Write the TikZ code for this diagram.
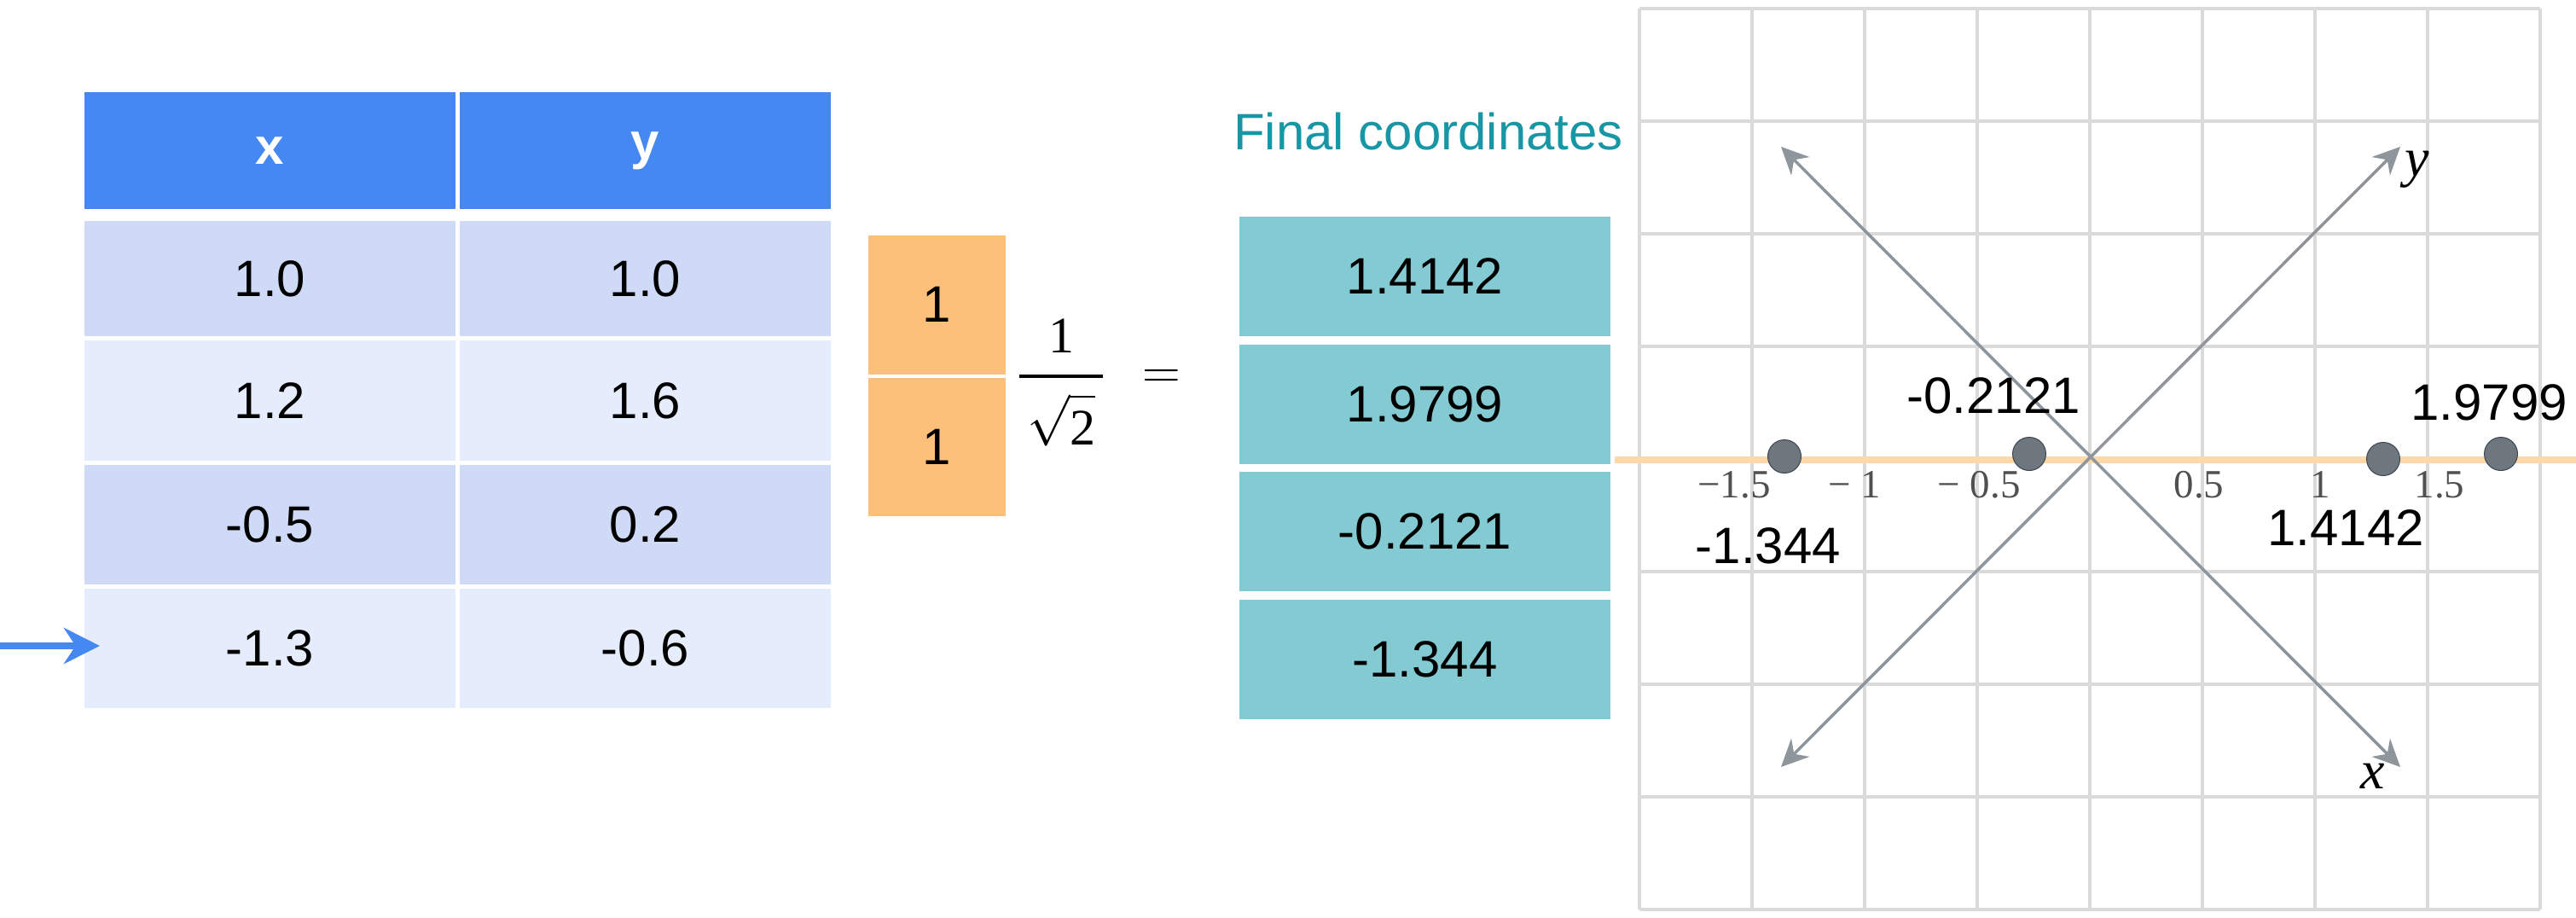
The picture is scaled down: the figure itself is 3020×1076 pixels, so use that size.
\RequirePackage{fix-cm}
\documentclass[tikz,border=0pt]{standalone}
\usepackage[no-math]{fontspec}
\setmainfont{Liberation Sans}
\newfontfamily\serifface{Liberation Serif}
\usetikzlibrary{arrows.meta}
\definecolor{hdr}{HTML}{4688F1}
\definecolor{rowa}{HTML}{CEDAF6}
\definecolor{rowb}{HTML}{E5ECFB}
\definecolor{orng}{HTML}{FDC07A}
\definecolor{tealbox}{HTML}{84CAD2}
\definecolor{tealtxt}{HTML}{1797A6}
\definecolor{gridc}{HTML}{DADADA}
\definecolor{axisc}{HTML}{8E959B}
\definecolor{dotc}{HTML}{6E767E}
\definecolor{dotline}{HTML}{3C4650}
\definecolor{lineo}{HTML}{FDD8A8}
\definecolor{tickc}{HTML}{505050}
\newcommand{\bigtxt}{\fontsize{60}{72}\selectfont}
\newcommand{\ticktxt}{\fontsize{47}{56}\selectfont\serifface}
\begin{document}
\begin{tikzpicture}[x=1pt,y=-1pt,
  cellbox/.style={rectangle,inner sep=0pt,minimum width=435pt,font=\bigtxt},
  hdrcell/.style={cellbox,fill=hdr,text=white,minimum height=137pt,font=\bigtxt\bfseries},
  rowacell/.style={cellbox,fill=rowa},
  rowbcell/.style={cellbox,fill=rowb},
  orbox/.style={rectangle,inner sep=0pt,fill=orng,minimum width=161pt,minimum height=163pt,font=\bigtxt},
  tlbox/.style={rectangle,inner sep=0pt,fill=tealbox,minimum width=435pt,minimum height=140pt,font=\bigtxt},
  gridline/.style={draw=gridc,line width=3.5pt},
  axisline/.style={draw=axisc,line width=3.5pt,{Stealth[length=32pt,width=30pt]}-{Stealth[length=32pt,width=30pt]}},
  ptdot/.style={circle,fill=dotc,draw=dotline,line width=1pt,minimum size=39pt,inner sep=0pt},
  ptlabel/.style={inner sep=0pt,font=\bigtxt},
  ticklabel/.style={inner sep=0pt,text=tickc,font=\ticktxt},
  axlabel/.style={inner sep=0pt,font=\fontsize{64}{76}\selectfont\serifface\itshape},
  mathtxt/.style={inner sep=0pt,font=\fontsize{60}{72}\selectfont\serifface}
]
\useasboundingbox[fill=white] (0,0) rectangle (3020,1076);

% ---- table ----
\node[hdrcell] (hx) at (316.5,176.5) {x};
\node[hdrcell] (hy) at (756.5,176.5) {y};
\node[rowacell,minimum height=135pt] (r1x) at (316.5,326.5) {1.0};
\node[rowacell,minimum height=135pt] (r1y) at (756.5,326.5) {1.0};
\node[rowbcell,minimum height=141pt] (r2x) at (316.5,469.5) {1.2};
\node[rowbcell,minimum height=141pt] (r2y) at (756.5,469.5) {1.6};
\node[rowacell,minimum height=140pt] (r3x) at (316.5,615) {-0.5};
\node[rowacell,minimum height=140pt] (r3y) at (756.5,615) {0.2};
\node[rowbcell,minimum height=140pt] (r4x) at (316.5,760) {-1.3};
\node[rowbcell,minimum height=140pt] (r4y) at (756.5,760) {-0.6};

\coordinate (arrS) at (0,757);
\coordinate (arrE) at (117,757);
\draw[draw=hdr,line width=8pt,-{Stealth[length=42pt,width=42pt]}] (arrS) -- (arrE);

% ---- orange vector ----
\node[orbox] (o1) at (1098,357) {1};
\node[orbox,minimum height=162pt] (o2) at (1098,524) {1};
\node[mathtxt,anchor=base] (num) at (1244,413) {1};
\coordinate (barL) at (1195,441);
\coordinate (barR) at (1293,441);
\draw[line width=4.5pt] (barL) -- (barR);
\node[mathtxt,anchor=base] (den) at (1244,521) {$\sqrt{\rule{0pt}{52pt}\mbox{\serifface 2}}$};
\node[inner sep=0pt,anchor=base,font=\fontsize{62}{74}\selectfont] (eq) at (1362,455) {$=$};

% ---- final coordinates ----
\node[inner sep=0pt,anchor=base west,text=tealtxt,font=\bigtxt] (fc) at (1446,175) {Final coordinates};
\node[tlbox] (t1) at (1670.5,324) {1.4142};
\node[tlbox] (t2) at (1670.5,474) {1.9799};
\node[tlbox] (t3) at (1670.5,623) {-0.2121};
\node[tlbox] (t4) at (1670.5,773) {-1.344};

% ---- grid ----
\foreach \i in {0,...,8} {
  \draw[gridline] (1922+132*\i,10) -- (1922+132*\i,1066);
  \draw[gridline] (1922,10+132*\i) -- (2978,10+132*\i);
}

% ---- projection line ----
\coordinate (lineS) at (1893,539);
\coordinate (lineE) at (3020,539);
\draw[draw=lineo,line width=8.5pt] (lineS) -- (lineE);

% ---- rotated axes ----
\coordinate (O) at (2450,536);
\coordinate (xa1) at (2088,172);
\coordinate (xa2) at (2814,899);
\coordinate (ya1) at (2088,899);
\coordinate (ya2) at (2814,172);
\draw[axisline] (xa1) -- (xa2);
\draw[axisline] (ya1) -- (ya2);
\node[axlabel] (ylab) at (2834,199) {y};
\node[axlabel] (xlab) at (2782,910) {x};

% ---- tick labels ----
\node[ticklabel] (tk1) at (2033,568) {−1.5};
\node[ticklabel] (tk2) at (2174,568) {− 1};
\node[ticklabel] (tk3) at (2320,568) {− 0.5};
\node[ticklabel] (tk4) at (2578,568) {0.5};
\node[ticklabel] (tk5) at (2720,568) {1};
\node[ticklabel] (tk6) at (2860,568) {1.5};

% ---- points ----
\node[ptdot] (p1) at (2092,535) {};
\node[ptdot] (p2) at (2379,532) {};
\node[ptdot] (p3) at (2794,538) {};
\node[ptdot] (p4) at (2932,532) {};
\node[ptlabel] (l2) at (2337,464) {-0.2121};
\node[ptlabel] (l4) at (2918,472) {1.9799};
\node[ptlabel] (l1) at (2073,640) {-1.344};
\node[ptlabel] (l3) at (2750,619) {1.4142};
\end{tikzpicture}
\end{document}
